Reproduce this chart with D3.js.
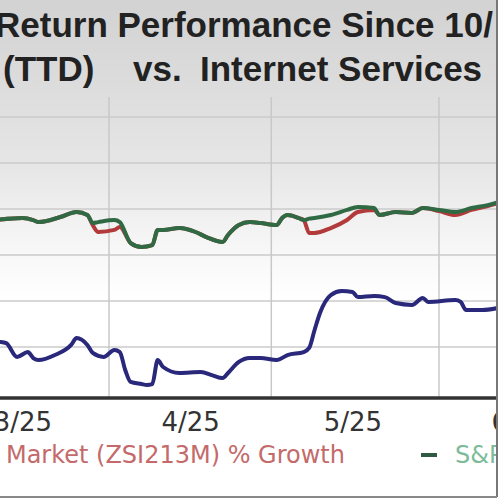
<!DOCTYPE html>
<html>
<head>
<meta charset="utf-8">
<script src="https://cdn.jsdelivr.net/npm/d3@7"></script>
<style>
html,body{margin:0;padding:0;background:#fff;}
svg{display:block;}
</style>
</head>
<body>
<svg id="chart" width="500" height="500"></svg>
<script>
// ---- data ----
const titleLine1 = "Return Performance Since 10/";
const titleLine2 = ["(TTD)", "vs.", "Internet Services"];
const monthTicks = ["2025-03-16", "2025-04-16", "2025-05-16", "2025-06-16"];
const monthStarts = ["2025-04-01", "2025-05-01", "2025-06-01"];
const yTicks = [-40, -20, 0, 20, 40, 60];

const mktDates = ["2025-03-11","2025-03-16","2025-03-18","2025-03-19","2025-03-23","2025-03-26","2025-03-28","2025-03-29","2025-03-30",
  "2025-04-02","2025-04-03","2025-04-05","2025-04-07","2025-04-09","2025-04-10","2025-04-11","2025-04-14","2025-04-17","2025-04-19",
  "2025-04-22","2025-04-23","2025-04-25","2025-04-27","2025-04-29","2025-05-02","2025-05-03","2025-05-04","2025-05-06","2025-05-07",
  "2025-05-08","2025-05-09","2025-05-12","2025-05-15","2025-05-17","2025-05-20","2025-05-21","2025-05-24","2025-05-27","2025-05-29",
  "2025-06-01","2025-06-04","2025-06-07","2025-06-10","2025-06-12"];
const spValues = [15.2,16.1,15.2,14.3,16.5,18.7,17.4,13.9,14.3,
  15.2,14.3,5.2,3.5,4.3,10.9,10.9,11.7,10.0,7.8,
  5.7,8.7,13.0,14.3,13.9,13.0,16.1,17.4,16.1,15.2,
  15.8,16.1,17.4,19.6,20.9,20.4,17.4,18.7,18.3,20.4,
  19.6,18.7,20.4,21.7,23.0];
const industryValues = [15.2,16.1,15.2,14.3,16.5,18.7,17.4,13.0,10.0,
  10.9,12.2,5.2,3.5,4.3,10.9,10.9,11.7,10.0,7.8,
  5.7,8.7,13.0,14.3,13.9,13.0,16.1,17.4,16.1,15.2,
  9.6,9.6,11.7,15.2,18.7,19.6,17.4,18.7,18.3,20.4,
  19.1,17.4,19.6,21.3,22.6];

const ttdDates = ["2025-03-12","2025-03-13","2025-03-15","2025-03-17","2025-03-18","2025-03-19","2025-03-22","2025-03-25","2025-03-26",
  "2025-03-28","2025-03-29","2025-03-31","2025-04-02","2025-04-03","2025-04-04","2025-04-05","2025-04-07","2025-04-08","2025-04-09",
  "2025-04-10","2025-04-11","2025-04-14","2025-04-18","2025-04-20","2025-04-22","2025-04-23","2025-04-25","2025-04-27","2025-04-29",
  "2025-05-02","2025-05-04","2025-05-07","2025-05-08","2025-05-09","2025-05-10","2025-05-12","2025-05-14","2025-05-16","2025-05-17",
  "2025-05-20","2025-05-22","2025-05-24","2025-05-27","2025-05-29","2025-05-30","2025-06-04","2025-06-05","2025-06-06","2025-06-09",
  "2025-06-12"];
const ttdValues = [-37.8,-38.3,-44.3,-42.2,-44.8,-45.7,-43.5,-39.1,-36.1,
  -39.1,-42.6,-44.3,-41.3,-42.2,-50.0,-55.2,-56.1,-56.5,-56.1,
  -45.7,-48.7,-51.3,-50.9,-52.2,-53.5,-51.3,-46.5,-44.8,-44.8,
  -45.7,-43.5,-42.2,-40.4,-32.6,-25.2,-17.4,-15.7,-16.1,-18.3,
  -17.8,-18.3,-20.9,-21.7,-18.7,-20.4,-19.6,-20.4,-23.9,-23.9,
  -23.0];

const legendIndustry = "Internet Services Market (ZSI213M) % Growth";
const legendSP = "S&P 500 % Growth";

// ---- drawing ----
const parse = d3.utcParse("%Y-%m-%d");
const svg = d3.select("#chart");

const defs = svg.append("defs");
const bg = defs.append("linearGradient").attr("id","bg").attr("x1",0).attr("y1",0).attr("x2",0).attr("y2",1);
[[0,"#d2d2d2"],[0.33,"#dedede"],[0.55,"#e6e6e6"],[0.85,"#f8f8f8"],[1,"#ffffff"]].forEach(([o,c]) =>
  bg.append("stop").attr("offset",o).attr("stop-color",c));
defs.append("clipPath").attr("id","plotclip").append("rect")
  .attr("x",-10).attr("y",97).attr("width",506).attr("height",300);

svg.append("rect").attr("width",500).attr("height",500).attr("fill","#fff");
svg.append("rect").attr("width",500).attr("height",300).attr("fill","url(#bg)");

const x = d3.scaleUtc().domain([parse("2025-04-01"), parse("2025-06-01")]).range([109, 439]);
const y = d3.scaleLinear().domain([-60, 60]).range([393, 117]);

// gridlines
svg.append("g").selectAll("line").data(yTicks).join("line")
  .attr("x1",0).attr("x2",496).attr("y1",d=>y(d)).attr("y2",d=>y(d))
  .attr("stroke","#cbcbcb").attr("stroke-width",1.5);
svg.append("g").selectAll("line").data(monthStarts.map(parse)).join("line")
  .attr("x1",d=>x(d)).attr("x2",d=>x(d)).attr("y1",97).attr("y2",398)
  .attr("stroke","#c8c8c8").attr("stroke-width",1.5);

// lines
const line = d3.line().x(d=>x(d[0])).y(d=>y(d[1])).curve(d3.curveMonotoneX);
const plot = svg.append("g").attr("clip-path","url(#plotclip)");
const series = [
  {dates: mktDates, values: industryValues, color: "#b23a3a"},
  {dates: mktDates, values: spValues, color: "#2f6a44"},
  {dates: ttdDates, values: ttdValues, color: "#29287a"}
];
series.forEach(s => {
  plot.append("path")
    .datum(s.dates.map((d,i)=>[parse(d), s.values[i]]))
    .attr("d", line).attr("fill","none")
    .attr("stroke", s.color).attr("stroke-width",4)
    .attr("stroke-linejoin","round").attr("stroke-linecap","round");
});

// x axis
const xAxis = d3.axisBottom(x).tickValues(monthTicks.map(parse))
  .tickFormat(d3.utcFormat("%-m/%y")).tickSize(0).tickPadding(15);
const ax = svg.append("g").attr("transform","translate(0,398)").call(xAxis);
ax.select(".domain").remove();
ax.selectAll("text").attr("font-family","DejaVu Sans").attr("font-size",26).attr("fill","#333");
svg.append("line").attr("x1",-5).attr("x2",497).attr("y1",398).attr("y2",398)
  .attr("stroke","#333").attr("stroke-width",3.5);

// title
svg.append("text").attr("x",-5).attr("y",37)
  .attr("font-family","Liberation Sans, Arial, sans-serif").attr("font-weight","bold")
  .attr("font-size",35).attr("fill","#222").text(titleLine1);
const t2 = svg.append("text").attr("y",81)
  .attr("font-family","Liberation Sans, Arial, sans-serif").attr("font-weight","bold")
  .attr("font-size",35).attr("fill","#222");
const t2x = [3, 133, 200];
titleLine2.forEach((s,i)=> t2.append("tspan").attr("x",t2x[i]).text(s));

// legend
svg.append("text").attr("x",345).attr("y",463).attr("text-anchor","end")
  .attr("font-family","DejaVu Sans").attr("font-size",24).attr("fill","#c46a6a").text(legendIndustry);
svg.append("line").attr("x1",421).attr("x2",437).attr("y1",455).attr("y2",455)
  .attr("stroke","#2f5a44").attr("stroke-width",4);
svg.append("text").attr("x",455).attr("y",463)
  .attr("font-family","DejaVu Sans").attr("font-size",24).attr("fill","#7dbb9b").text(legendSP);

// frame
svg.append("rect").attr("x",497).attr("y",0).attr("width",3).attr("height",500).attr("fill","#fff");
svg.append("line").attr("x1",497).attr("x2",497).attr("y1",0).attr("y2",497).attr("stroke","#777").attr("stroke-width",2);
svg.append("line").attr("x1",0).attr("x2",497).attr("y1",497).attr("y2",497).attr("stroke","#888").attr("stroke-width",2);
</script>
</body>
</html>
